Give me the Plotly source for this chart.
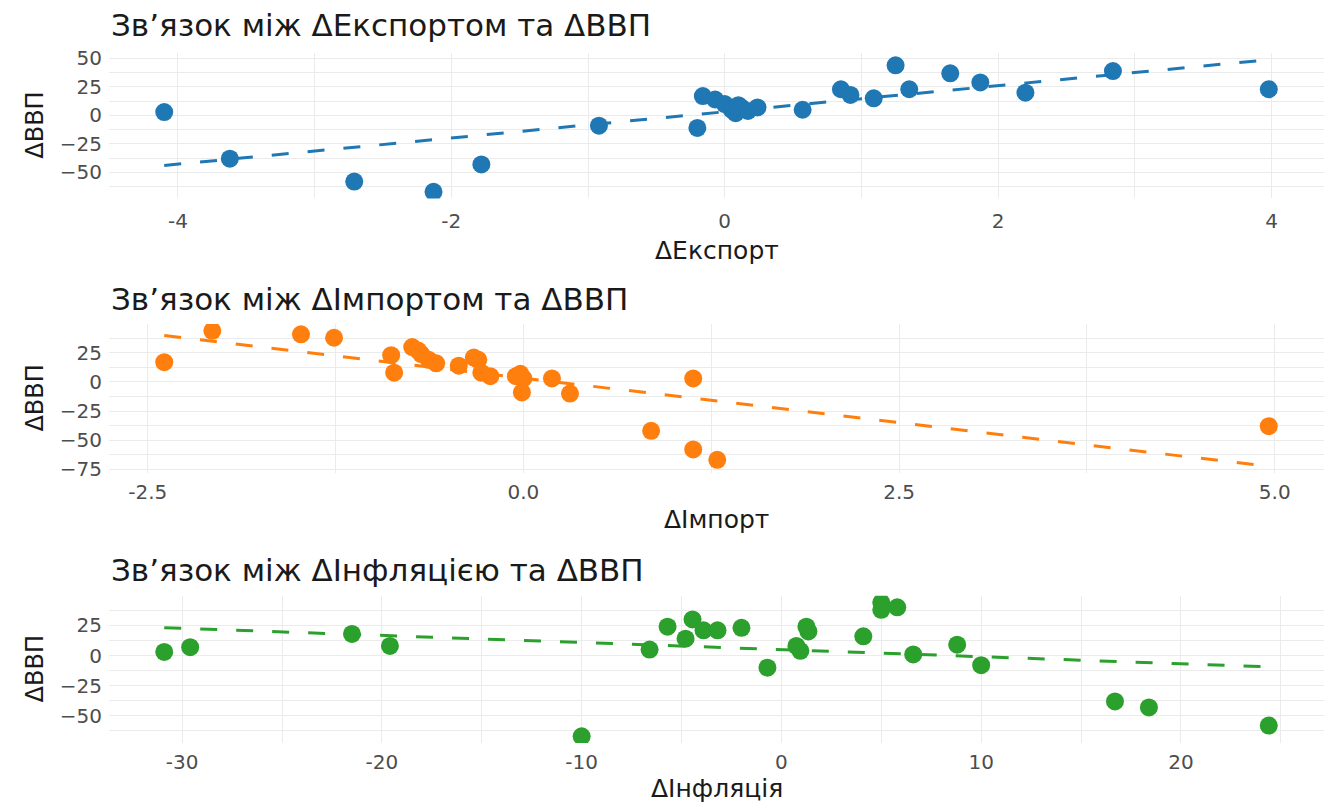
import numpy as np
import plotly.graph_objects as go

# ---------------- data ----------------
export_d = [-4.1, -3.62, -2.71, -2.13, -1.78, -0.92, -0.2, -0.16,
            -0.07, 0.0, 0.05, 0.08, 0.1, 0.12, 0.17, 0.24,
            0.57, 0.85, 0.92, 1.09, 1.25, 1.35, 1.65, 1.87, 2.2, 2.84, 3.98]
gdp_export = [3, -38, -58, -67, -43, -9, -11, 17,
              14, 10, 5, 2, 9, 7, 4, 7,
              5, 23, 18, 15, 44, 23, 37, 29, 20, 39, 23]

import_d = [-2.39, -2.07, -1.48, -1.26, -0.88, -0.86, -0.74, -0.7, -0.68, -0.63,
            -0.58, -0.43, -0.33, -0.3, -0.28, -0.22, -0.05, -0.02, 0.0, -0.01,
            0.19, 0.31, 0.85, 1.13, 1.13, 1.29, 4.96]
gdp_import = [17, 44, 41, 38, 23, 8, 30, 27, 24, 19,
              16, 14, 21, 19, 8, 5, 5, 7, 3, -9,
              3, -10, -42, 3, -58, -67, -38]

infl_d = [-30.9, -29.6, -21.5, -19.6, -10.0, -6.6, -5.7, -4.8, -4.45, -3.9,
          -3.2, -2.0, -0.7, 0.75, 0.95, 1.25, 1.35, 4.1, 5.0, 5.0,
          5.8, 6.6, 8.8, 10.0, 16.7, 18.4, 24.4]
gdp_infl = [3, 7, 18, 8, -67, 5, 24, 14, 30, 21,
            21, 23, -10, 8, 4, 24, 20, 16, 44, 38,
            40, 1, 9, -8, -38, -43, -58]

titles = ["Зв’язок між ΔЕкспортом та ΔВВП",
          "Зв’язок між ΔІмпортом та ΔВВП",
          "Зв’язок між ΔІнфляцією та ΔВВП"]
x_titles = ["ΔЕкспорт", "ΔІмпорт", "ΔІнфляція"]
y_title = "ΔВВП"
colors = ["#1f77b4", "#ff7f0e", "#2ca02c"]

x_tickvals = [[-4, -2, 0, 2, 4], [-2.5, 0.0, 2.5, 5.0], [-30, -20, -10, 0, 10, 20]]
x_ticktext = [["-4", "-2", "0", "2", "4"], ["-2.5", "0.0", "2.5", "5.0"],
              ["-30", "-20", "-10", "0", "10", "20"]]
x_minor = [1, 1.25, 5]
y_tickvals = [[-50, -25, 0, 25, 50], [-75, -50, -25, 0, 25], [-50, -25, 0, 25]]

# ---------------- layout geometry (pixels) ----------------
W, H = 1331, 807
FONT = "DejaVu Sans, Liberation Sans, Arial, sans-serif"
plot_left, plot_right = 109, 1324
panels_px = [  # (top, bottom, title_y, xtitle_y, x tick standoff)
    (47, 195, 18, 248, 9),
    (323, 475, 298, 522, 5),
    (600, 750, 574, 796, 5),
]


def fy(p):
    return 1 - p / H


fig = go.Figure()
datasets = [(export_d, gdp_export), (import_d, gdp_import), (infl_d, gdp_infl)]
annotations = []
for i, (xs, ys) in enumerate(datasets):
    xa = "x" if i == 0 else f"x{i+1}"
    ya = "y" if i == 0 else f"y{i+1}"
    xs_a = np.array(xs, dtype=float)
    ys_a = np.array(ys, dtype=float)
    slope, icpt = np.polyfit(xs_a, ys_a, 1)
    lx = np.linspace(xs_a.min(), xs_a.max(), 80)
    ly = slope * lx + icpt
    fig.add_trace(go.Scatter(x=xs, y=ys, mode="markers", xaxis=xa, yaxis=ya,
                             marker=dict(size=18, color=colors[i], line=dict(width=0)),
                             showlegend=False, hoverinfo="skip"))
    fig.add_trace(go.Scatter(x=lx, y=ly, mode="lines", xaxis=xa, yaxis=ya,
                             line=dict(color=colors[i], width=3, dash="17px,19px"),
                             showlegend=False, hoverinfo="skip"))
    # ranges with 5% expansion (ggplot style)
    allx = np.concatenate([xs_a, lx])
    ally = np.concatenate([ys_a, ly])
    dx = (allx.max() - allx.min()) * 0.05
    dy = (ally.max() - ally.min()) * 0.05
    top, bot, ty, xty, xstand = panels_px[i]
    key = "" if i == 0 else str(i + 1)
    fig.layout["xaxis" + key] = dict(
        domain=[plot_left / W, plot_right / W], anchor=ya,
        range=[allx.min() - dx, allx.max() + dx],
        tickvals=x_tickvals[i], ticktext=x_ticktext[i],
        showgrid=True, gridcolor="#ebebeb", gridwidth=1.4,
        minor=dict(dtick=x_minor[i], tick0=0, showgrid=True, gridcolor="#ebebeb", gridwidth=0.8),
        zeroline=False, showline=False, ticks="",
        tickfont=dict(family=FONT, size=20, color="#4d4d4d"),
        ticklabelstandoff=xstand,
    )
    fig.layout["yaxis" + key] = dict(
        domain=[fy(bot), fy(top)], anchor=xa,
        range=[ally.min() - dy, ally.max() + dy],
        tickvals=y_tickvals[i],
        showgrid=True, gridcolor="#ebebeb", gridwidth=1.4,
        minor=dict(dtick=12.5, tick0=0, showgrid=True, gridcolor="#ebebeb", gridwidth=0.8),
        zeroline=False, showline=False, ticks="",
        tickfont=dict(family=FONT, size=20, color="#4d4d4d"),
        ticklabelstandoff=6,
    )
    annotations.append(dict(text=titles[i], x=plot_left / W, y=fy(ty), xref="paper", yref="paper",
                            xanchor="left", yanchor="middle", showarrow=False,
                            font=dict(family=FONT, size=31, color="#1a1a1a")))
    annotations.append(dict(text=x_titles[i], x=(plot_left + plot_right) / 2 / W, y=fy(xty),
                            xref="paper", yref="paper", xanchor="center", yanchor="middle",
                            showarrow=False, font=dict(family=FONT, size=25, color="#1a1a1a")))
    annotations.append(dict(text=y_title, x=35 / W, y=fy((top + bot) / 2), xref="paper", yref="paper",
                            xanchor="center", yanchor="middle", textangle=-90, showarrow=False,
                            font=dict(family=FONT, size=24, color="#1a1a1a")))

fig.update_layout(width=W, height=H, margin=dict(l=0, r=0, t=0, b=0),
                  paper_bgcolor="white", plot_bgcolor="white",
                  annotations=annotations, showlegend=False)

fig.write_html("out.html", config={"displayModeBar": False},
               post_script="document.body.style.margin='0px';document.body.style.overflow='hidden';")
